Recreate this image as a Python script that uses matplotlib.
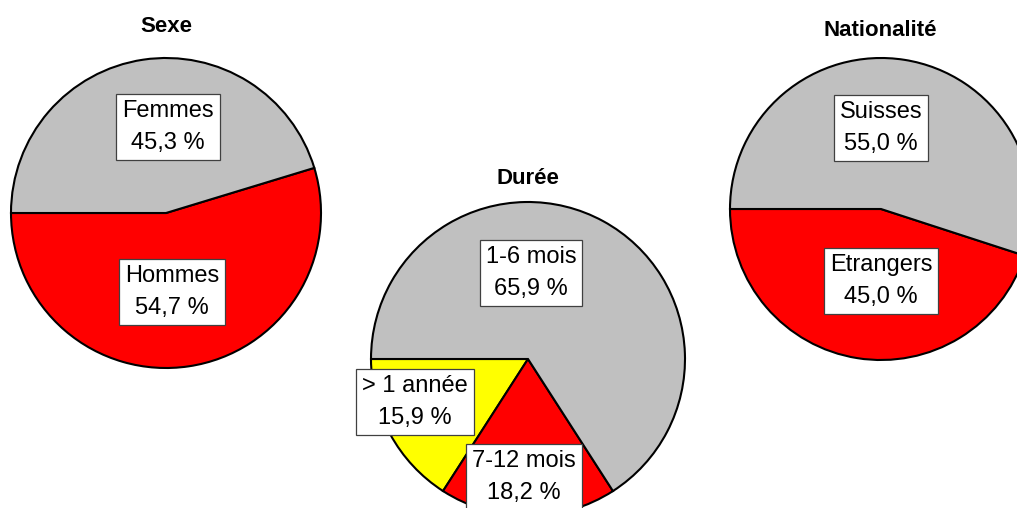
import matplotlib
matplotlib.use("Agg")
import matplotlib.pyplot as plt

plt.rcParams['font.family'] = ['Liberation Sans', 'DejaVu Sans']

# data
sexe_labels = ['Hommes', 'Femmes']
sexe_values = [54.7, 45.3]
sexe_colors = ['#FF0000', '#C0C0C0']

duree_labels = ['> 1 année', '7-12 mois', '1-6 mois']
duree_values = [15.9, 18.2, 65.9]
duree_colors = ['#FFFF00', '#FF0000', '#C0C0C0']

nat_labels = ['Etrangers', 'Suisses']
nat_values = [45.0, 55.0]
nat_colors = ['#FF0000', '#C0C0C0']

W, H = 1017, 508
fig = plt.figure(figsize=(W / 100, H / 100), dpi=100)
ax = fig.add_axes([0, 0, 1, 1])

def fmt(name, v):
    return name + '\n' + ('%.1f' % v).replace('.', ',') + ' %'

box = dict(boxstyle='square,pad=0.26', facecolor='white', edgecolor='#404040', linewidth=0.9)

pies = [
    ('Sexe', sexe_labels, sexe_values, sexe_colors, (166, 295), 155, (166, 481),
     [(172, 216), (168, 381)]),
    ('Durée', duree_labels, duree_values, duree_colors, (528, 149), 157, (528, 330),
     [(415, 106), (524, 31), (531, 235)]),
    ('Nationalité', nat_labels, nat_values, nat_colors, (881, 299), 151, (880, 477),
     [(881, 227), (881, 380)]),
]

for title, labels, values, colors, center, r, tpos, lpos in pies:
    ax.pie(values, colors=colors, startangle=180, counterclock=True,
           center=center, radius=r,
           wedgeprops=dict(edgecolor='black', linewidth=1.5))
    ax.text(tpos[0], tpos[1], title, ha='center', va='center',
            fontsize=16, fontweight='bold')
    for name, v, p in zip(labels, values, lpos):
        ax.text(p[0], p[1], fmt(name, v), ha='center', va='center',
                fontsize=17, linespacing=1.55, bbox=box)

ax.set_xlim(0, W)
ax.set_ylim(0, H)
ax.set_aspect('auto')
ax.axis('off')

fig.savefig('out.png', dpi=100)
